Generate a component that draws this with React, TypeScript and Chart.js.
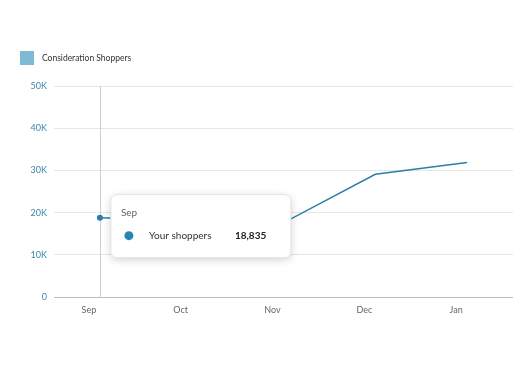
import React, { useEffect, useRef } from "react";
import { Chart, registerables } from "chart.js";

Chart.register(...registerables);

const months: string[] = ["Sep", "Oct", "Nov", "Dec", "Jan"];
const shoppers: number[] = [18835, 18200, 17600, 29100, 31900];
const seriesName = "Consideration Shoppers";
const tooltipLabel = "Your shoppers";
const yTicks: number[] = [0, 10000, 20000, 30000, 40000, 50000];
const activeIndex = 0;

const FONT = "Lato, 'Open Sans', sans-serif";
const LINE = "#2b7ea8";

const legendPlugin = {
  id: "customLegend",
  afterDraw(chart: any) {
    const ctx = chart.ctx;
    ctx.save();
    ctx.fillStyle = "#7fbad5";
    ctx.fillRect(20, 51, 14, 14);
    ctx.fillStyle = "#333";
    ctx.font = `8.5px ${FONT}`;
    ctx.textBaseline = "middle";
    ctx.textAlign = "left";
    ctx.fillText(chart.data.datasets[0].label, 42, 58);
    ctx.restore();
  },
};

const hoverPlugin = {
  id: "hoverTip",
  beforeDatasetsDraw(chart: any) {
    const meta = chart.getDatasetMeta(0);
    const pt = meta.data[activeIndex];
    const { top, bottom } = chart.chartArea;
    const ctx = chart.ctx;
    ctx.save();
    ctx.strokeStyle = "#cfcfcf";
    ctx.lineWidth = 1;
    ctx.beginPath();
    ctx.moveTo(Math.round(pt.x) + 0.5, top);
    ctx.lineTo(Math.round(pt.x) + 0.5, bottom);
    ctx.stroke();
    ctx.restore();
  },
  afterDatasetsDraw(chart: any) {
    const meta = chart.getDatasetMeta(0);
    const pt = meta.data[activeIndex];
    const ctx = chart.ctx;
    const x = pt.x + 11;
    const y = pt.y - 23;
    const w = 180;
    const h = 63;
    ctx.save();
    ctx.shadowColor = "rgba(0,0,0,0.18)";
    ctx.shadowBlur = 8;
    ctx.shadowOffsetY = 2;
    ctx.fillStyle = "#fff";
    ctx.beginPath();
    ctx.roundRect(x, y, w, h, 6);
    ctx.fill();
    ctx.shadowColor = "transparent";
    ctx.strokeStyle = "#e4e4e4";
    ctx.lineWidth = 1;
    ctx.stroke();
    ctx.textBaseline = "middle";
    ctx.textAlign = "left";
    ctx.fillStyle = "#666";
    ctx.font = `10px ${FONT}`;
    ctx.fillText(chart.data.labels[activeIndex], x + 10, y + 18);
    ctx.fillStyle = "#2a84b4";
    ctx.beginPath();
    ctx.arc(x + 18, y + 41, 4.5, 0, Math.PI * 2);
    ctx.fill();
    ctx.fillStyle = "#333";
    ctx.fillText(tooltipLabel, x + 38, y + 41);
    ctx.font = `bold 10px ${FONT}`;
    ctx.fillStyle = "#222";
    const v = chart.data.datasets[0].data[activeIndex];
    ctx.fillText(Number(v).toLocaleString("en-US"), x + 124, y + 41);
    ctx.restore();
  },
};

export default function App() {
  const ref = useRef<HTMLCanvasElement | null>(null);
  useEffect(() => {
    if (!ref.current) return;
    const chart = new Chart(ref.current, {
      type: "line",
      data: {
        labels: months,
        datasets: [
          {
            label: seriesName,
            data: shoppers,
            borderColor: LINE,
            backgroundColor: LINE,
            borderWidth: 1.5,
            tension: 0,
            pointRadius: (c: any) => (c.dataIndex === activeIndex ? 3 : 0),
            pointBackgroundColor: LINE,
            pointBorderWidth: 0,
          },
        ],
      },
      options: {
        animation: false,
        responsive: false,
        events: [],
        layout: { padding: { top: 86, left: 10, right: 10, bottom: 44 } },
        plugins: {
          legend: { display: false },
          tooltip: { enabled: false },
        },
        scales: {
          x: {
            offset: true,
            grid: { display: false, drawTicks: false },
            border: { display: false },
            ticks: {
              color: "#666",
              font: { size: 9, family: FONT },
              labelOffset: -11,
              padding: 7,
              maxRotation: 0,
            },
          },
          y: {
            min: 0,
            max: 50000,
            afterBuildTicks: (s: any) => {
              s.ticks = yTicks.map((v) => ({ value: v }));
            },
            afterFit: (s: any) => {
              s.width = 44;
            },
            border: { display: false },
            grid: {
              drawTicks: false,
              color: (c: any) => (c.tick && c.tick.value === 0 ? "#bdbdbd" : "#e6e6e6"),
            },
            ticks: {
              color: "#3a87ad",
              font: { size: 9, family: FONT },
              padding: 7,
              callback: (v: any) => (v === 0 ? "0" : `${v / 1000}K`),
            },
          },
        },
      },
      plugins: [legendPlugin, hoverPlugin],
    } as any);
    return () => chart.destroy();
  }, []);
  return (
    <div style={{ position: "absolute", left: 0, top: 0, width: 523, height: 366, background: "#fff" }}>
      <canvas ref={ref} width={523} height={366} style={{ width: 523, height: 366 }} />
    </div>
  );
}
